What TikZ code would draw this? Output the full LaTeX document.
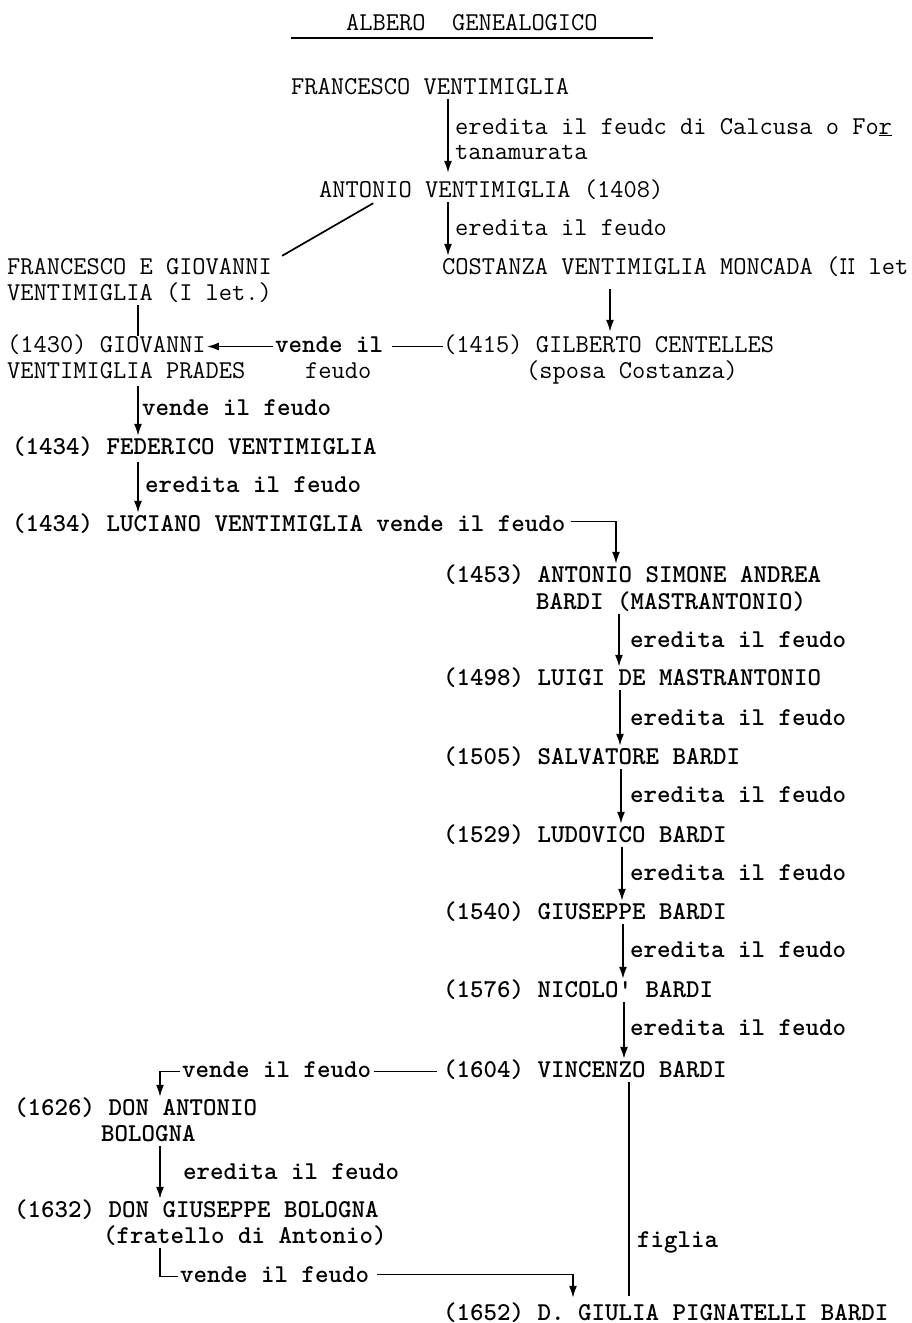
\documentclass[tikz,border=0pt]{standalone}
\usepackage{fontspec}
\usetikzlibrary{arrows.meta}
\frenchspacing
\begin{document}
\begin{tikzpicture}[x=1pt,y=-1pt,
  txt/.style={font=\ttfamily\fontsize{25.7}{30}\selectfont, inner sep=0pt, anchor=base west, text height=16pt, text depth=5pt},
  btxt/.style={txt, font=\ttfamily\fontsize{25.7}{30}\selectfont\bfseries},
  ln/.style={line width=1.7pt},
  arr/.style={ln, -{Latex[length=12pt,width=8pt]}, shorten >=2pt},
]
\useasboundingbox[fill=white] (0,0) rectangle (912,1323);

% x positions of connectors
\coordinate (xA) at (448,0);
\coordinate (xD) at (375,0);
\coordinate (xB) at (138,0);
\coordinate (xCo) at (610,0);
\coordinate (xC) at (616,0);
\coordinate (xE) at (160,0);
\coordinate (xF) at (573,0);
\coordinate (xG) at (629,0);

% title
\node[txt] (title) at (346,30) {ALBERO\ \ GENEALOGICO};
\draw[ln] ([xshift=-55pt,yshift=-3pt]title.south west) -- ([xshift=55pt,yshift=-3pt]title.south east);

% people
\node[txt] (fv) at (291,94) {FRANCESCO VENTIMIGLIA};
\node[txt] (av) at (319,197) {ANTONIO VENTIMIGLIA (1408)};
\node[txt] (fg1) at (7,274) {FRANCESCO E GIOVANNI};
\node[txt] (fg2) at (7,300) {VENTIMIGLIA (I let.)};
\node[txt] (co) at (442,274) {COSTANZA VENTIMIGLIA MONCADA (\scalebox{0.6}[1]{\bfseries II} let};
\node[txt] (gv1) at (7,352) {(1430) GIOVANNI};
\node[txt] (gv2) at (7,378) {VENTIMIGLIA PRADES};
\node[txt] (gc1) at (443,352) {(1415) GILBERTO CENTELLES};
\node[txt] (gc2) at (526,378) {(sposa Costanza)};
\node[btxt] (fe) at (12,454) {(1434) FEDERICO VENTIMIGLIA};
\node[btxt] (lu) at (12,531) {(1434) LUCIANO VENTIMIGLIA vende il feudo};
\node[btxt] (as1) at (443,582) {(1453) ANTONIO SIMONE ANDREA};
\node[btxt] (as2) at (536,609) {BARDI (MASTRANTONIO)};
\node[btxt] (lg) at (443,685) {(1498) LUIGI DE MASTRANTONIO};
\node[btxt] (sb) at (443,764) {(1505) SALVATORE BARDI};
\node[btxt] (lb) at (443,842) {(1529) LUDOVICO BARDI};
\node[btxt] (gb) at (443,919) {(1540) GIUSEPPE BARDI};
\node[btxt] (nb) at (443,997) {(1576) NICOLO' BARDI};
\node[btxt] (vb) at (443,1077) {(1604) VINCENZO BARDI};
\node[btxt] (da1) at (14,1115) {(1626) DON ANTONIO};
\node[btxt] (da2) at (101,1141) {BOLOGNA};
\node[btxt] (dg1) at (14,1217) {(1632) DON GIUSEPPE BOLOGNA};
\node[btxt] (dg2) at (103,1243) {(fratello di Antonio)};
\node[btxt] (gp) at (443,1320) {(1652) D. GIULIA PIGNATELLI BARDI};

% labels
\node[txt] (l1a) at (455,134) {eredita il feudc di Calcusa o Fo\underline{r}};
\node[txt] (l1b) at (455,159) {tanamurata};
\node[txt] (l2) at (455,235) {eredita il feudo};
\node[btxt] (vl1) at (275,352) {vende il};
\node[txt] (vl2) at (305,378) {feudo};
\node[btxt] (l3) at (142,415) {vende il feudo};
\node[btxt] (l4) at (145,492) {eredita il feudo};
\node[btxt] (l5) at (630,647) {eredita il feudo};
\node[btxt] (l6) at (630,725) {eredita il feudo};
\node[btxt] (l7) at (630,802) {eredita il feudo};
\node[btxt] (l8) at (630,880) {eredita il feudo};
\node[btxt] (l9) at (630,957) {eredita il feudo};
\node[btxt] (l10) at (630,1035) {eredita il feudo};
\node[btxt] (vf1) at (182,1077) {vende il feudo};
\node[btxt] (l11) at (183,1179) {eredita il feudo};
\node[btxt] (vf2) at (180,1282) {vende il feudo};
\node[btxt] (fi) at (637,1247) {figlia};

% connectors
\draw[arr, shorten >=8pt] (fv.south -| xA) -- (av.north -| xA);
\draw[arr] (av.south -| xA) -- (co.north -| xA);
\draw[ln, shorten <=2pt] (av.south -| xD) -- ([xshift=10pt,yshift=2pt]fg1.north east);
\draw[ln] (fg2.south -| xB) -- (gv1.north -| xB);
\draw[arr, shorten <=10pt, shorten >=4pt] (co.south -| xCo) -- (gc1.north -| xCo);
\draw[arr, shorten <=2pt, shorten >=1pt] (vl1.west) -- (gv1.east);
\draw[ln, shorten >=9pt] (gc1.west) -- (vl1.east);
\draw[arr, shorten <=3pt] (gv2.south -| xB) -- (fe.north -| xB);
\draw[arr, shorten <=3pt] (fe.south -| xB) -- (lu.north -| xB);
\draw[arr] ([shift={(5pt,4pt)}]lu.east) -| (as1.north -| xC);
\draw[arr] (as2.south -| 619,0) -- (lg.north -| 619,0);
\draw[arr] (lg.south -| 620,0) -- (sb.north -| 620,0);
\draw[arr] (sb.south -| 621,0) -- (lb.north -| 621,0);
\draw[arr] (lb.south -| 622,0) -- (gb.north -| 622,0);
\draw[arr] (gb.south -| 623,0) -- (nb.north -| 623,0);
\draw[arr] (nb.south -| 624,0) -- (vb.north -| 624,0);
\draw[ln, shorten <=6pt, shorten >=3pt] (vb.west) -- (vf1.east);
\draw[arr] ([xshift=-2pt]vf1.west) -| (da1.north -| xE);
\draw[arr] (da2.south -| xE) -- (dg1.north -| xE);
\draw[ln] (dg2.south -| xE) |- ([xshift=-2pt]vf2.west);
\draw[arr, shorten >=6pt] ([xshift=8pt,yshift=2pt]vf2.east) -| (gp.north -| xF);
\draw[ln, shorten >=8pt] (vb.south -| xG) -- (gp.north -| xG);
\end{tikzpicture}
\end{document}
